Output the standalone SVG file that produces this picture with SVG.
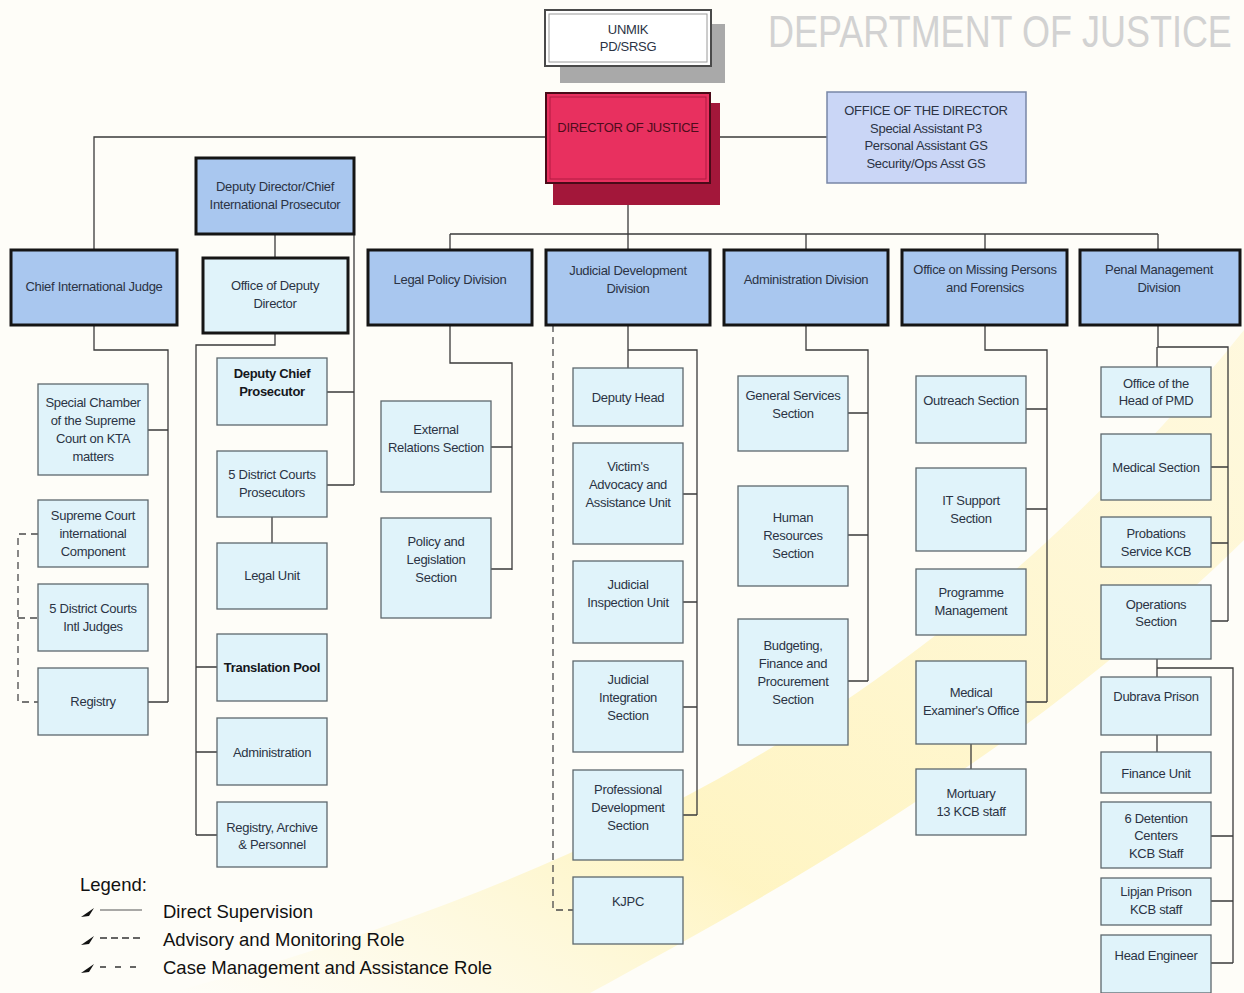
<svg xmlns="http://www.w3.org/2000/svg" width="1244" height="993" viewBox="0 0 1244 993">
<defs>
<style>
.div{fill:#a9c7ef;stroke:#151515;stroke-width:3}
.sub{fill:#e0f3fa;stroke:#5d686d;stroke-width:1.3}
.odd{fill:#e0f3fa;stroke:#151515;stroke-width:3}
.t{font-family:'Liberation Sans',Arial,sans-serif;font-size:13px;fill:#2b3344;text-anchor:middle;letter-spacing:-0.3px}
.tb{font-family:'Liberation Sans',Arial,sans-serif;font-size:13px;fill:#15171c;text-anchor:middle;letter-spacing:-0.3px;font-weight:bold}
.c{fill:none;stroke:#3a3a3a;stroke-width:1.3}
.dash{fill:none;stroke:#4a4a4a;stroke-width:1.3;stroke-dasharray:7 5}
.lg{font-family:'Liberation Sans',Arial,sans-serif;font-size:18.5px;fill:#111}
</style>
<linearGradient id="sw" x1="0" y1="1" x2="1" y2="0">
<stop offset="0" stop-color="#fff3b8" stop-opacity="0"/>
<stop offset="0.35" stop-color="#ffefa0" stop-opacity="0.6"/>
<stop offset="1" stop-color="#fff4c4" stop-opacity="0.5"/>
</linearGradient>
</defs>
<rect width="1244" height="993" fill="#fefdf8"/>
<path d="M170 993 C500 900 900 760 1244 330 L1244 540 C1020 760 760 900 590 993 Z" fill="url(#sw)"/>

<text transform="translate(768,47) scale(0.8,1)" x="0" y="0" font-family="'Liberation Sans',Arial,sans-serif" font-size="45" fill="#d2d2d2">DEPARTMENT OF JUSTICE</text>

<g id="connectors">
<path class="c" d="M546 137 H94 V250"/>
<path class="c" d="M710 137 H827"/>
<path class="c" d="M628 205 V234 M450 234 H1158 M450 234 V250 M628 234 V250 M806 234 V250 M985 234 V250 M1158 234 V250"/>
<path class="c" d="M275 234 V258"/>
<path class="c" d="M354 234 V485 M327 392 H354 M327 485 H354"/>
<path class="c" d="M272 517 V543"/>
<path class="c" d="M275 333 V345 H196 V835 M196 667 H217 M196 752 H217 M196 835 H217"/>
<path class="c" d="M94 325 V350 H168 V702 M148 430 H168 M148 702 H168"/>
<path class="dash" d="M38 534 H18 V702 H38 M18 618 H38"/>
<path class="c" d="M450 325 V363 H512 V570 M491 447 H512 M491 569 H512"/>
<path class="dash" d="M553 325 V910 H573"/>
<path class="c" d="M628 325 V368 M628 350 H697 V815 M683 494 H697 M683 602 H697 M683 707 H697 M683 815 H697"/>
<path class="c" d="M806 325 V350 H868 V681 M848 413 H868 M848 535 H868 M848 681 H868"/>
<path class="c" d="M985 325 V350 H1047 V702 M1026 409 H1047 M1026 509 H1047 M1026 702 H1047"/>
<path class="c" d="M971 744 V769"/>
<path class="c" d="M1158 325 V347 H1228 V621 M1157 347 V367 M1211 467 H1228 M1211 543 H1228 M1211 621 H1228"/>
<path class="c" d="M1157 659 V677 M1157 668 H1233 V963 M1211 836 H1233 M1211 901 H1233 M1211 963 H1233"/>
<path class="c" d="M1157 735 V752"/>
</g>

<g id="unmik">
<rect x="560" y="24" width="165" height="59" fill="#a9a9a9"/>
<rect x="545" y="10" width="166" height="56" fill="#ffffff" stroke="#4a4a4a" stroke-width="2"/>
<rect x="549" y="14" width="158" height="48" fill="none" stroke="#9a9a9a" stroke-width="1"/>
<text class="t" x="628" y="34" fill="#222">UNMIK</text>
<text class="t" x="628" y="51" fill="#222">PD/SRSG</text>
</g>

<g id="director">
<rect x="553" y="103" width="167" height="102" fill="#a3173a"/>
<rect x="546" y="93" width="164" height="90" fill="#e8305f" stroke="#4a0a18" stroke-width="2"/>
<rect x="550" y="97" width="156" height="82" fill="none" stroke="#b01a42" stroke-width="1"/>
<text class="t" x="628" y="132" style="fill:#4e0c1c">DIRECTOR OF JUSTICE</text>
</g>

<g id="office-director">
<rect x="827" y="92" width="199" height="91" fill="#cad6f6" stroke="#7886a6" stroke-width="1.5"/>
<text class="t" x="926" y="115">OFFICE OF THE DIRECTOR</text>
<text class="t" x="926" y="133">Special Assistant P3</text>
<text class="t" x="926" y="150">Personal Assistant GS</text>
<text class="t" x="926" y="168">Security/Ops Asst GS</text>
</g>

<g id="deputy-director">
<rect class="div" x="196" y="158" width="158" height="76"/>
<text class="t" x="275" y="191">Deputy Director/Chief</text>
<text class="t" x="275" y="209">International Prosecutor</text>
</g>

<g id="chief-judge">
<rect class="div" x="11" y="250" width="166" height="75"/>
<text class="t" x="94" y="291">Chief International Judge</text>
</g>

<g id="office-deputy">
<rect class="odd" x="203" y="258" width="145" height="75"/>
<text class="t" x="275" y="290">Office of Deputy</text>
<text class="t" x="275" y="308">Director</text>
</g>

<g id="legal-policy">
<rect class="div" x="368" y="250" width="164" height="75"/>
<text class="t" x="450" y="284">Legal Policy Division</text>
</g>

<g id="jdd">
<rect class="div" x="546" y="250" width="164" height="75"/>
<text class="t" x="628" y="275">Judicial Development</text>
<text class="t" x="628" y="293">Division</text>
</g>

<g id="admin-div">
<rect class="div" x="724" y="250" width="164" height="75"/>
<text class="t" x="806" y="284">Administration Division</text>
</g>

<g id="missing">
<rect class="div" x="902" y="250" width="165" height="75"/>
<text class="t" x="985" y="274">Office on Missing Persons</text>
<text class="t" x="985" y="292">and Forensics</text>
</g>

<g id="penal">
<rect class="div" x="1080" y="250" width="160" height="75"/>
<text class="t" x="1159" y="274">Penal Management</text>
<text class="t" x="1159" y="292">Division</text>
</g>

<g id="special-chamber">
<rect class="sub" x="38" y="384" width="110" height="91"/>
<text class="t" x="93" y="407">Special Chamber</text>
<text class="t" x="93" y="425">of the Supreme</text>
<text class="t" x="93" y="443">Court on KTA</text>
<text class="t" x="93" y="461">matters</text>
</g>
<g id="supreme-court">
<rect class="sub" x="38" y="500" width="110" height="67"/>
<text class="t" x="93" y="520">Supreme Court</text>
<text class="t" x="93" y="538">international</text>
<text class="t" x="93" y="556">Component</text>
</g>
<g id="district-judges">
<rect class="sub" x="38" y="584" width="110" height="67"/>
<text class="t" x="93" y="613">5 District Courts</text>
<text class="t" x="93" y="631">Intl Judges</text>
</g>
<g id="registry">
<rect class="sub" x="38" y="668" width="110" height="67"/>
<text class="t" x="93" y="706">Registry</text>
</g>

<g id="deputy-chief-prosecutor">
<rect class="sub" x="217" y="358" width="110" height="67"/>
<text class="tb" x="272" y="378">Deputy Chief</text>
<text class="tb" x="272" y="396">Prosecutor</text>
</g>
<g id="district-prosecutors">
<rect class="sub" x="217" y="451" width="110" height="66"/>
<text class="t" x="272" y="479">5 District Courts</text>
<text class="t" x="272" y="497">Prosecutors</text>
</g>
<g id="legal-unit">
<rect class="sub" x="217" y="543" width="110" height="66"/>
<text class="t" x="272" y="580">Legal Unit</text>
</g>
<g id="translation-pool">
<rect class="sub" x="217" y="634" width="110" height="67"/>
<text class="tb" x="272" y="672">Translation Pool</text>
</g>
<g id="administration">
<rect class="sub" x="217" y="718" width="110" height="67"/>
<text class="t" x="272" y="757">Administration</text>
</g>
<g id="registry-archive">
<rect class="sub" x="217" y="802" width="110" height="65"/>
<text class="t" x="272" y="832">Registry, Archive</text>
<text class="t" x="272" y="849">&amp; Personnel</text>
</g>

<g id="external-relations">
<rect class="sub" x="381" y="401" width="110" height="91"/>
<text class="t" x="436" y="434">External</text>
<text class="t" x="436" y="452">Relations Section</text>
</g>
<g id="policy-legislation">
<rect class="sub" x="381" y="518" width="110" height="100"/>
<text class="t" x="436" y="546">Policy and</text>
<text class="t" x="436" y="564">Legislation</text>
<text class="t" x="436" y="582">Section</text>
</g>

<g id="deputy-head">
<rect class="sub" x="573" y="368" width="110" height="58"/>
<text class="t" x="628" y="402">Deputy Head</text>
</g>
<g id="victims">
<rect class="sub" x="573" y="443" width="110" height="101"/>
<text class="t" x="628" y="471">Victim's</text>
<text class="t" x="628" y="489">Advocacy and</text>
<text class="t" x="628" y="507">Assistance Unit</text>
</g>
<g id="inspection">
<rect class="sub" x="573" y="561" width="110" height="82"/>
<text class="t" x="628" y="589">Judicial</text>
<text class="t" x="628" y="607">Inspection Unit</text>
</g>
<g id="integration">
<rect class="sub" x="573" y="661" width="110" height="91"/>
<text class="t" x="628" y="684">Judicial</text>
<text class="t" x="628" y="702">Integration</text>
<text class="t" x="628" y="720">Section</text>
</g>
<g id="professional">
<rect class="sub" x="573" y="770" width="110" height="90"/>
<text class="t" x="628" y="794">Professional</text>
<text class="t" x="628" y="812">Development</text>
<text class="t" x="628" y="830">Section</text>
</g>
<g id="kjpc">
<rect class="sub" x="573" y="877" width="110" height="67"/>
<text class="t" x="628" y="906">KJPC</text>
</g>

<g id="general-services">
<rect class="sub" x="738" y="376" width="110" height="75"/>
<text class="t" x="793" y="400">General Services</text>
<text class="t" x="793" y="418">Section</text>
</g>
<g id="human-resources">
<rect class="sub" x="738" y="486" width="110" height="100"/>
<text class="t" x="793" y="522">Human</text>
<text class="t" x="793" y="540">Resources</text>
<text class="t" x="793" y="558">Section</text>
</g>
<g id="budgeting">
<rect class="sub" x="738" y="619" width="110" height="126"/>
<text class="t" x="793" y="650">Budgeting,</text>
<text class="t" x="793" y="668">Finance and</text>
<text class="t" x="793" y="686">Procurement</text>
<text class="t" x="793" y="704">Section</text>
</g>

<g id="outreach">
<rect class="sub" x="916" y="376" width="110" height="67"/>
<text class="t" x="971" y="405">Outreach Section</text>
</g>
<g id="it-support">
<rect class="sub" x="916" y="468" width="110" height="83"/>
<text class="t" x="971" y="505">IT Support</text>
<text class="t" x="971" y="523">Section</text>
</g>
<g id="programme">
<rect class="sub" x="916" y="569" width="110" height="66"/>
<text class="t" x="971" y="597">Programme</text>
<text class="t" x="971" y="615">Management</text>
</g>
<g id="medical-examiner">
<rect class="sub" x="916" y="661" width="110" height="83"/>
<text class="t" x="971" y="697">Medical</text>
<text class="t" x="971" y="715">Examiner's Office</text>
</g>
<g id="mortuary">
<rect class="sub" x="916" y="769" width="110" height="66"/>
<text class="t" x="971" y="798">Mortuary</text>
<text class="t" x="971" y="816">13 KCB staff</text>
</g>

<g id="office-head-pmd">
<rect class="sub" x="1101" y="367" width="110" height="50"/>
<text class="t" x="1156" y="388">Office of the</text>
<text class="t" x="1156" y="405">Head of PMD</text>
</g>
<g id="medical-section">
<rect class="sub" x="1101" y="434" width="110" height="66"/>
<text class="t" x="1156" y="472">Medical Section</text>
</g>
<g id="probations">
<rect class="sub" x="1101" y="517" width="110" height="50"/>
<text class="t" x="1156" y="538">Probations</text>
<text class="t" x="1156" y="556">Service KCB</text>
</g>
<g id="operations">
<rect class="sub" x="1101" y="585" width="110" height="74"/>
<text class="t" x="1156" y="609">Operations</text>
<text class="t" x="1156" y="626">Section</text>
</g>
<g id="dubrava">
<rect class="sub" x="1101" y="677" width="110" height="58"/>
<text class="t" x="1156" y="701">Dubrava Prison</text>
</g>
<g id="finance-unit">
<rect class="sub" x="1101" y="752" width="110" height="41"/>
<text class="t" x="1156" y="778">Finance Unit</text>
</g>
<g id="detention">
<rect class="sub" x="1101" y="802" width="110" height="66"/>
<text class="t" x="1156" y="823">6 Detention</text>
<text class="t" x="1156" y="840">Centers</text>
<text class="t" x="1156" y="858">KCB Staff</text>
</g>
<g id="lipjan">
<rect class="sub" x="1101" y="878" width="110" height="47"/>
<text class="t" x="1156" y="896">Lipjan Prison</text>
<text class="t" x="1156" y="914">KCB staff</text>
</g>
<g id="head-engineer">
<rect class="sub" x="1101" y="935" width="110" height="58"/>
<text class="t" x="1156" y="960">Head Engineer</text>
</g>

<g id="legend">
<text class="lg" x="80" y="891">Legend:</text>
<path d="M81 917 L94 908 L89 916 Z" fill="#111"/>
<line x1="100" y1="910" x2="142" y2="910" stroke="#555" stroke-width="1"/>
<text class="lg" x="163" y="918">Direct Supervision</text>
<path d="M81 945 L94 936 L89 944 Z" fill="#111"/>
<line x1="100" y1="938" x2="142" y2="938" stroke="#333" stroke-width="1.3" stroke-dasharray="7 4"/>
<text class="lg" x="163" y="946">Advisory and Monitoring Role</text>
<path d="M81 973 L94 964 L89 972 Z" fill="#111"/>
<line x1="100" y1="967" x2="142" y2="967" stroke="#333" stroke-width="1.3" stroke-dasharray="6 9"/>
<text class="lg" x="163" y="974">Case Management and Assistance Role</text>
</g>
</svg>
